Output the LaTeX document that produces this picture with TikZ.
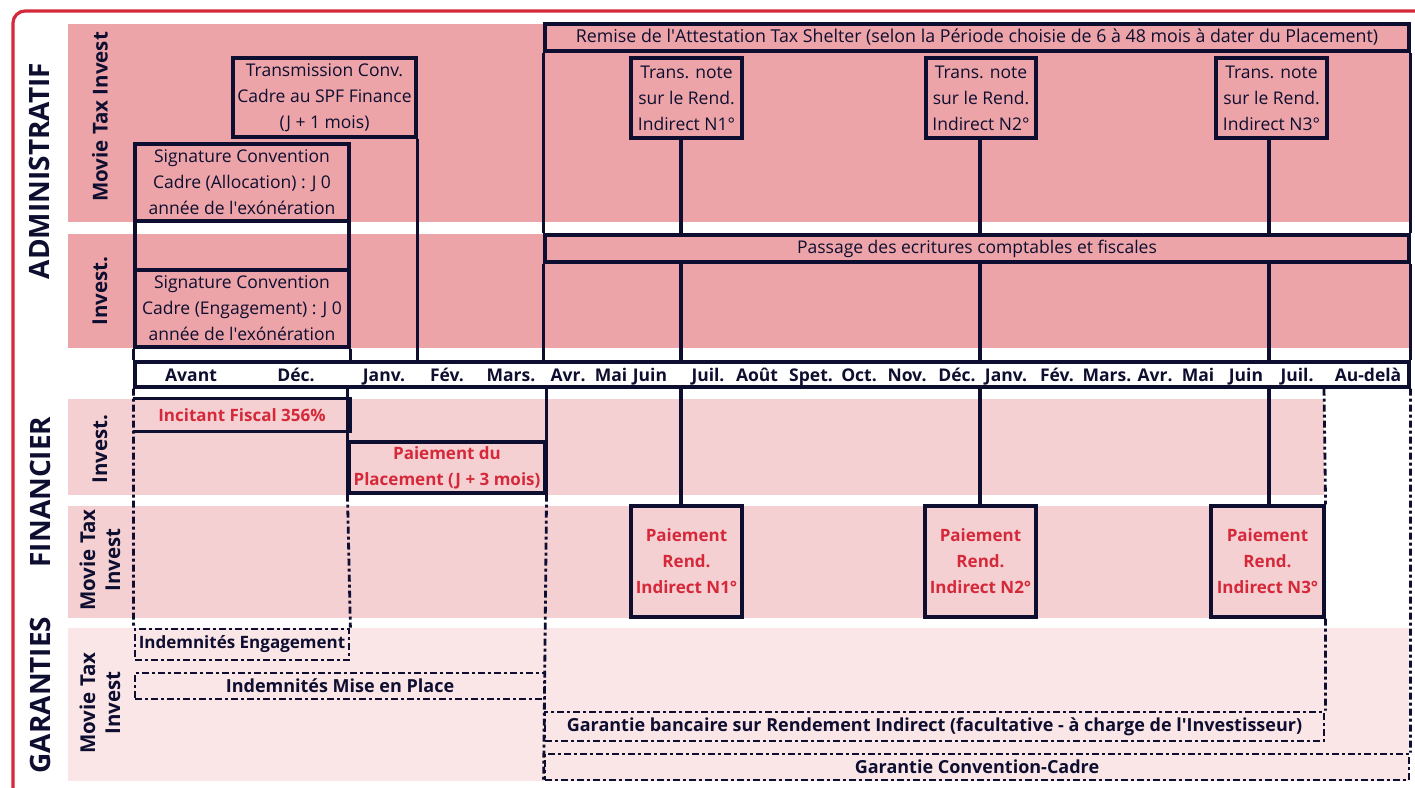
\documentclass[tikz,border=0pt]{standalone}
\usepackage{fontspec}
\setmainfont{Open Sans}
\usepackage{textcomp}
\newcommand\ap{\textquotesingle}
\definecolor{navy}{RGB}{14,14,48}
\definecolor{redc}{RGB}{213,41,58}
\definecolor{bandA}{RGB}{236,164,168}
\definecolor{bandF}{RGB}{245,208,211}
\definecolor{bandG}{RGB}{250,229,231}
\tikzset{
  ln/.style={draw=navy, line width=3.1pt},
  dl/.style={draw=navy, line width=2.8pt, dash pattern=on 7pt off 3pt on 3pt off 3pt},
  boxA/.style={ln, inner sep=0pt, align=center, text=navy, font=\fontsize{17.5}{26}\selectfont},
  boxF/.style={ln, inner sep=0pt, align=center, text=redc, font=\bfseries\fontsize{17}{26}\selectfont},
  boxG/.style={dl, inner sep=0pt, align=center, text=navy, font=\bfseries\fontsize{18}{20}\selectfont},
  sect/.style={rotate=90, text=navy, font=\bfseries\fontsize{28}{30}\selectfont},
  rowl/.style={rotate=90, text=navy, align=center, font=\bfseries\fontsize{20.5}{25}\selectfont},
  mon/.style={text=navy, anchor=base, font=\bfseries\fontsize{17.5}{20}\selectfont, inner sep=0pt},
  sz/.style 2 args={minimum width=#1pt, minimum height=#2pt},
}
\begin{document}
\begin{tikzpicture}[x=1pt,y=-1pt]
\useasboundingbox (0,0) rectangle (1415,787);
\clip (0,0) rectangle (1415,787);
% bands
\fill[bandA] (68,24) rectangle (1409,222);
\fill[bandA] (68,234) rectangle (1409,348);
\fill[bandF] (68,399) rectangle (1324,495);
\fill[bandF] (68,506) rectangle (1324,618);
\fill[bandG] (68,628) rectangle (1409,781);
% frame
\draw[redc, line width=3.2pt, rounded corners=12pt] (13,11) rectangle (1460,840);
% section labels
\node[sect] (sA) at (39,171) {ADMINISTRATIF};
\node[sect] (sF) at (40,492) {FINANCIER};
\node[sect] (sG) at (40,695) {GARANTIES};
\node[rowl] (rA1) at (100,117) {Movie Tax Invest};
\node[rowl] (rA2) at (100,291) {Invest.};
\node[rowl] (rF1) at (100,449) {Invest.};
\node[rowl] (rF2) at (100,560) {Movie Tax\\Invest};
\node[rowl] (rG1) at (100,703) {Movie Tax\\Invest};
% timeline
\node[ln, fill=white, sz={1274}{25}, inner sep=0pt] (tl) at (772,374.5) {};
\foreach \t/\x [count=\i] in {Avant/191,D\'ec./296,Janv./384,F\'ev./447,Mars./511,Avr./568,Mai/611,Juin/650,Juil./708,Ao\^ut/757,Spet./811,Oct./859,Nov./907,D\'ec./957,Janv./1006,F\'ev./1057,Mars./1107,Avr./1155,Mai/1198,Juin/1246,Juil./1297,Au-del\`a/1368}
  \node[mon] (m\i) at (\x,381) {\t};
% admin boxes
\node[boxA, sz={183}{79}] (trans) at (324.5,97.5) {Transmission Conv.\\Cadre au SPF Finance\\(J + 1 mois)};
\node[boxA, sz={214}{77}] (sigA) at (242,182.5) {Signature Convention\\Cadre (Allocation) : J 0\\ann\'ee de l\ap ex\'on\'eration};
\node[boxA, sz={214}{49}] (sigB) at (242,245.5) {};
\node[boxA, sz={214}{77}] (sigE) at (242,308.5) {Signature Convention\\Cadre (Engagement) : J 0\\ann\'ee de l\ap ex\'on\'eration};
\node[boxA, sz={864}{27}, font=\fontsize{17.8}{26}\selectfont] (rem) at (977,37.5) {Remise de l\ap Attestation Tax Shelter (selon la P\'eriode choisie de 6 \`a 48 mois \`a dater du Placement)};
\node[boxA, sz={864}{27}] (pas) at (977,248.5) {Passage des ecritures comptables et fiscales};
\node[boxA, sz={111}{80}] (tn1) at (686.5,98) {Trans. note\\sur le Rend.\\Indirect N1°};
\node[boxA, sz={110}{80}] (tn2) at (981,98) {Trans. note\\sur le Rend.\\Indirect N2°};
\node[boxA, sz={111}{80}] (tn3) at (1271.5,98) {Trans. note\\sur le Rend.\\Indirect N3°};
\coordinate (c1) at (681,0);
\coordinate (c2) at (980,0);
\coordinate (c3) at (1269,0);
\coordinate (c4) at (1324,0);
% admin connectors
\draw[ln] (sigE.south west) -- (sigE.south west |- tl.north);
\draw[ln] (sigE.south east) -- (sigE.south east |- tl.north);
\draw[ln] (trans.south east) -- (trans.south east |- tl.north);
\draw[ln] (rem.south west) -- (pas.north west);
\draw[ln] (rem.south east) -- (pas.north east);
\draw[ln] (pas.south west) -- (pas.south west |- tl.north);
\draw[ln] (pas.south east) -- (pas.south east |- tl.north);
\foreach \n/\c in {tn1/c1,tn2/c2,tn3/c3}{
  \draw[ln] (\n.south -| \c) -- (pas.north -| \c);
  \draw[ln] (pas.south -| \c) -- (tl.north -| \c);
}
% financier
\node[boxF, draw=none, sz={214}{30}] (inc) at (242,415) {Incitant Fiscal 356\%};
\draw[ln] (inc.north west) -- (inc.north east) -- (inc.south east) -- (inc.south west);
\node[boxF, sz={196}{51}] (ppl) at (447,467.5) {Paiement du\\Placement (J + 3 mois)};
\node[boxF, sz={111}{111}] (pay1) at (686.5,561.5) {Paiement\\Rend.\\Indirect N1°};
\node[boxF, sz={111}{111}] (pay2) at (980.5,561.5) {Paiement\\Rend.\\Indirect N2°};
\node[boxF, sz={113}{111}] (pay3) at (1267.5,561.5) {Paiement\\Rend.\\Indirect N3°};
\draw[ln] (tl.south -| c1) -- (pay1.north -| c1);
\draw[ln] (tl.south -| c2) -- (pay2.north -| c2);
\draw[ln] (tl.south -| c3) -- (pay3.north -| c3);
\draw[ln] (tl.south -| ppl.south west) -- (ppl.south west);
\draw[ln] (tl.south -| ppl.south east) -- (ppl.south east);
% garanties
\node[boxG, sz={214}{31}, font=\bfseries\fontsize{17}{20}\selectfont] (indE) at (242,644.5) {Indemnit\'es Engagement};
\node[boxG, sz={410}{26}] (indM) at (340,686) {Indemnit\'es Mise en Place};
\node[boxG, sz={779}{29}] (garB) at (934.5,726.5) {Garantie bancaire sur Rendement Indirect (facultative - \`a charge de l\ap Investisseur)};
\node[boxG, sz={864}{26}] (garC) at (977,767) {Garantie Convention-Cadre};
\draw[dl] (tl.south west) -- (indE.north west);
\draw[dl] (ppl.south west) -- (indE.north east);
\draw[dl] (ppl.south east) -- (garC.south west);
\draw[dl] (tl.south -| c4) -- (pay3.north east);
\draw[dl] (pay3.south east) -- (garB.north east);
\draw[dl] (tl.south east) -- (garC.north east);
\end{tikzpicture}
\end{document}
